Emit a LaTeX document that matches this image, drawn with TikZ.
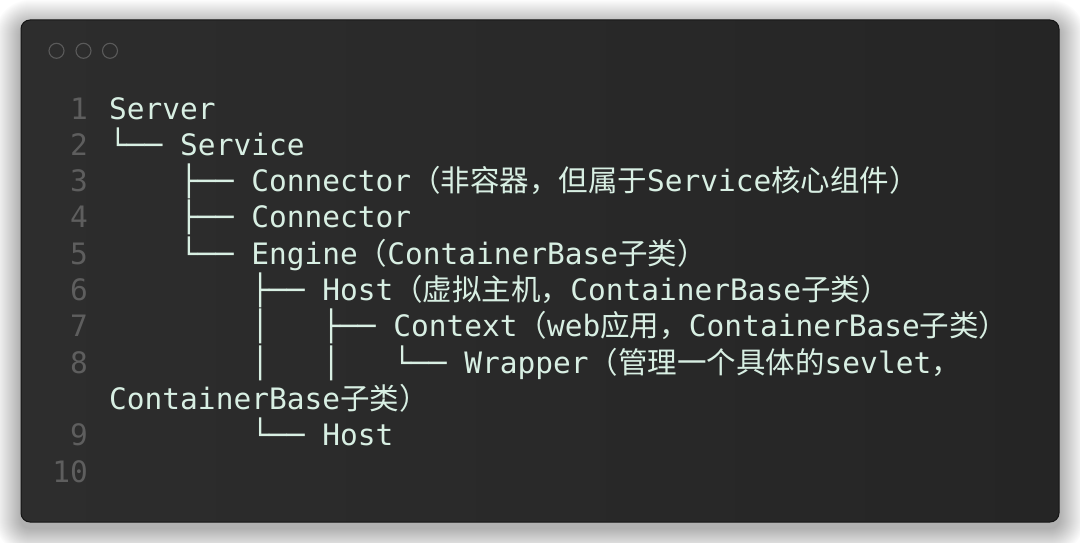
\documentclass[tikz,border=0pt]{standalone}
\usepackage{fontspec}
\newfontfamily\code{DejaVu Sans Mono}
\newfontfamily\cjk{Noto Sans CJK SC}
\newcommand{\zh}[1]{{\cjk #1}}
\definecolor{pagebg}{HTML}{FFFFFF}
\definecolor{winleft}{HTML}{2D2D2D}
\definecolor{winright}{HTML}{252525}
\definecolor{winborder}{HTML}{151515}
\definecolor{codetext}{HTML}{D8EFE3}
\definecolor{linenum}{HTML}{5E5E5E}
\definecolor{dotring}{HTML}{5A5A5A}
\tikzset{
  codeline/.style={anchor=base west, inner sep=0pt, text=codetext,
    font=\code\fontsize{29.5}{36}\selectfont},
  numline/.style={anchor=base east, inner sep=0pt, text=linenum,
    font=\code\fontsize{29.5}{36}\selectfont},
  windot/.style={circle, draw=dotring, line width=1.1pt, minimum size=15pt, inner sep=0pt},
}
\begin{document}
\begin{tikzpicture}[x=1pt,y=-1pt]
\useasboundingbox (0,0) rectangle (1080,543);
\fill[pagebg] (0,0) rectangle (1080,543);
% soft shadow
\foreach \i in {1,...,26}{
  \fill[black, opacity=0.011, rounded corners={9+\i}]
    (21-\i, 20-\i+6) rectangle (1059+\i, 522+\i+6);
}
% window
\shade[left color=winleft, right color=winright, rounded corners=9pt, draw=winborder, line width=1pt]
  (21,20) rectangle (1059,522);
% traffic-light rings
\node[windot] (d1) at (56.5,50.8) {};
\node[windot] (d2) at (83.5,50.8) {};
\node[windot] (d3) at (110,50.8) {};
% line numbers
\node[numline] (n1) at (88,119.0) {1};
\node[numline] (n2) at (88,155.3) {2};
\node[numline] (n3) at (88,191.6) {3};
\node[numline] (n4) at (88,227.9) {4};
\node[numline] (n5) at (88,264.2) {5};
\node[numline] (n6) at (88,300.5) {6};
\node[numline] (n7) at (88,336.8) {7};
\node[numline] (n8) at (88,373.1) {8};
\node[numline] (n9) at (88,445.7) {9};
\node[numline] (n10) at (88,482.0) {10};
% code
\node[codeline] (c1) at (109,119.0) {Server};
\node[codeline] (c2) at (109,155.3) {└── Service};
\node[codeline] (c3) at (109,191.6) {\ \ \ \ ├── Connector\zh{（非容器，但属于}Service\zh{核心组件）}};
\node[codeline] (c4) at (109,227.9) {\ \ \ \ ├── Connector};
\node[codeline] (c5) at (109,264.2) {\ \ \ \ └── Engine\zh{（}ContainerBase\zh{子类）}};
\node[codeline] (c6) at (109,300.5) {\ \ \ \ \ \ \ \ ├── Host\zh{（虚拟主机，}ContainerBase\zh{子类）}};
\node[codeline] (c7) at (109,336.8) {\ \ \ \ \ \ \ \ │\ \ \ ├── Context\zh{（}web\zh{应用，}ContainerBase\zh{子类）}};
\node[codeline] (c8) at (109,373.1) {\ \ \ \ \ \ \ \ │\ \ \ │\ \ \ └── Wrapper\zh{（管理一个具体的}sevlet\zh{，}};
\node[codeline] (c8b) at (109,409.4) {ContainerBase\zh{子类）}};
\node[codeline] (c9) at (109,445.7) {\ \ \ \ \ \ \ \ └── Host};
\end{tikzpicture}
\end{document}
